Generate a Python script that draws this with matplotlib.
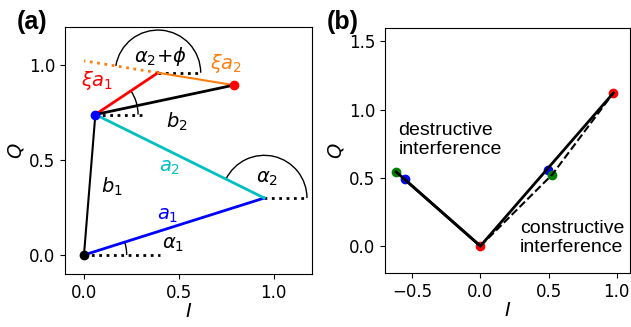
import numpy as np
import matplotlib
matplotlib.use('Agg')
import matplotlib.pyplot as plt
from matplotlib.patches import Arc

# panel (a): phasor construction
origin = [0.0, 0.0]
a1_end = [0.95, 0.30]
b1_end = [0.06, 0.74]
xi_end = [0.39, 0.96]
b2_end = [0.79, 0.895]
orange_ext = [0.0, 1.023]

# panel (b): IQ points
red_b = [[0.0, 0.0], [0.975, 1.122]]
blue_b = [[-0.554, 0.488], [0.493, 0.561]]
green_b = [[-0.618, 0.544], [0.527, 0.524]]

tick_fs = 12
txt_fs = 14

fig = plt.figure(figsize=(6.31, 3.27), dpi=100)
ax1 = fig.add_axes([0.103, 0.162, 0.391, 0.755])
ax2 = fig.add_axes([0.610, 0.162, 0.389, 0.755])

def ang(p, q):
    return np.degrees(np.arctan2(q[1] - p[1], q[0] - p[0]))

def seg(ax, p, q, *args, **kw):
    ax.plot([p[0], q[0]], [p[1], q[1]], *args, **kw)

R = 0.225
# dotted horizontal references
seg(ax1, origin, [0.40, 0.0], 'k:', lw=2)
seg(ax1, a1_end, [1.18, a1_end[1]], 'k:', lw=2)
seg(ax1, b1_end, [0.31, b1_end[1]], 'k:', lw=2)
seg(ax1, xi_end, [0.62, xi_end[1]], 'k:', lw=2)
seg(ax1, xi_end, orange_ext, ':', color='tab:orange', lw=2)

# vectors
seg(ax1, origin, a1_end, 'b-', lw=2)
seg(ax1, a1_end, b1_end, 'c-', lw=2)
seg(ax1, origin, b1_end, 'k-', lw=1.5)
seg(ax1, b1_end, xi_end, 'r-', lw=2)
seg(ax1, xi_end, b2_end, '-', color='tab:orange', lw=1.5)
seg(ax1, b1_end, b2_end, 'k-', lw=2)

ax1.plot(*origin, 'ko', ms=6)
ax1.plot(*b1_end, 'bo', ms=6)
ax1.plot(*b2_end, 'ro', ms=6)

# angle arcs
ax1.add_patch(Arc(origin, 2*R, 2*R, theta1=0, theta2=ang(origin, a1_end), color='k', lw=1))
ax1.add_patch(Arc(a1_end, 2*R, 2*R, theta1=0, theta2=ang(a1_end, b1_end), color='k', lw=1))
ax1.add_patch(Arc(b1_end, 2*R, 2*R, theta1=0, theta2=ang(b1_end, xi_end), color='k', lw=1))
ax1.add_patch(Arc(xi_end, 2*R, 2*R, theta1=0, theta2=ang(b2_end, xi_end), color='k', lw=1))

ax1.text(0.44, 0.21, r'$a_1$', color='b', fontsize=txt_fs, ha='center', va='center')
ax1.text(0.45, 0.46, r'$a_2$', color='c', fontsize=txt_fs, ha='center', va='center')
ax1.text(0.145, 0.36, r'$b_1$', color='k', fontsize=txt_fs, ha='center', va='center')
ax1.text(0.49, 0.70, r'$b_2$', color='k', fontsize=txt_fs, ha='center', va='center')
ax1.text(0.47, 0.055, r'$\alpha_1$', color='k', fontsize=txt_fs, ha='center', va='center')
ax1.text(0.965, 0.405, r'$\alpha_2$', color='k', fontsize=txt_fs, ha='center', va='center')
ax1.text(0.40, 1.045, r'$\alpha_2$+$\phi$', color='k', fontsize=txt_fs, ha='center', va='center')
ax1.text(0.07, 0.92, r'$\xi a_1$', color='r', fontsize=txt_fs, ha='center', va='center')
ax1.text(0.75, 1.01, r'$\xi a_2$', color='tab:orange', fontsize=txt_fs, ha='center', va='center')

ax1.set_xlim(-0.1, 1.2)
ax1.set_ylim(-0.1, 1.2)
ax1.set_aspect('equal')
ax1.set_xticks([0.0, 0.5, 1.0])
ax1.set_yticks([0.0, 0.5, 1.0])
ax1.tick_params(labelsize=tick_fs)
ax1.set_xlabel(r'$I$', fontsize=14, labelpad=0)
ax1.set_ylabel(r'$Q$', fontsize=14, labelpad=2)

# panel (b)
ax2.plot([blue_b[0][0], red_b[0][0], red_b[1][0]], [blue_b[0][1], red_b[0][1], red_b[1][1]], 'k-', lw=2)
ax2.plot([green_b[0][0], red_b[0][0]], [green_b[0][1], red_b[0][1]], 'k-', lw=2)
ax2.plot([red_b[0][0], green_b[1][0], red_b[1][0]], [red_b[0][1], green_b[1][1], red_b[1][1]], 'k--', lw=1.5)
ax2.plot([p[0] for p in red_b], [p[1] for p in red_b], 'ro', ms=6, zorder=1)
ax2.plot([p[0] for p in blue_b], [p[1] for p in blue_b], 'bo', ms=6, zorder=1)
ax2.plot([p[0] for p in green_b], [p[1] for p in green_b], 'o', color='g', ms=6, zorder=1)

ax2.text(-0.6, 0.78, 'destructive\ninterference', fontsize=txt_fs, family='Liberation Sans',
         ha='left', va='center', linespacing=1.15)
ax2.text(0.29, 0.06, 'constructive\ninterference', fontsize=txt_fs, family='Liberation Sans',
         ha='left', va='center', linespacing=1.15)

ax2.set_xlim(-0.7, 1.1)
ax2.set_ylim(-0.2, 1.6)
ax2.set_aspect('equal')
ax2.set_xticks([-0.5, 0.0, 0.5, 1.0])
ax2.set_yticks([0.0, 0.5, 1.0, 1.5])
ax2.tick_params(labelsize=tick_fs)
ax2.set_xlabel(r'$I$', fontsize=14, labelpad=0)
ax2.set_ylabel(r'$Q$', fontsize=14, labelpad=2)

fig.text(0.027, 0.968, '(a)', fontsize=18, fontweight='bold', family='Liberation Sans', ha='left', va='top')
fig.text(0.518, 0.968, '(b)', fontsize=18, fontweight='bold', family='Liberation Sans', ha='left', va='top')

fig.savefig('out.png', dpi=100)
